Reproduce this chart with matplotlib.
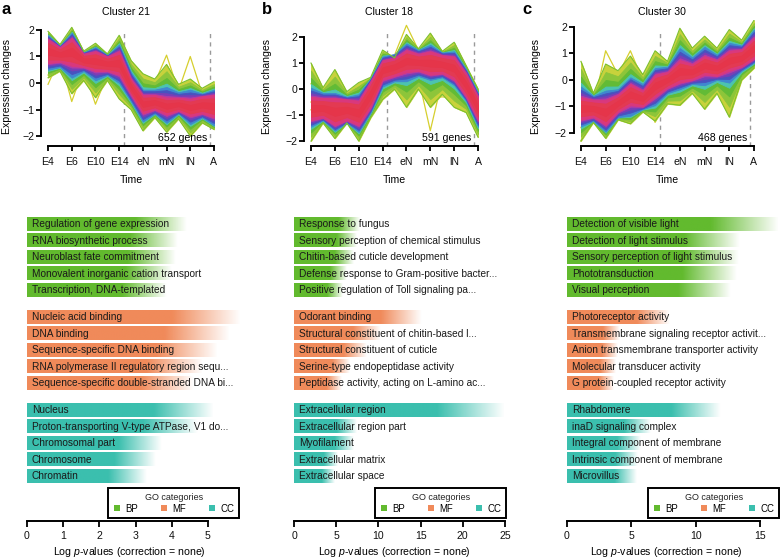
import numpy as np
import matplotlib
matplotlib.use('Agg')
import matplotlib.pyplot as plt
from matplotlib.colors import to_rgb
from matplotlib.lines import Line2D

plt.rcParams['font.family'] = ['Liberation Sans', 'DejaVu Sans']
plt.rcParams['mathtext.fontset'] = 'custom'
plt.rcParams['mathtext.rm'] = 'Liberation Sans'
plt.rcParams['mathtext.it'] = 'Liberation Sans:italic'

# ---------------- data ----------------
time_labels = ["E4", "E6", "E10", "E14", "eN", "mN", "lN", "A"]
n_points = 15

c21_outer_hi = [1.95, 1.45, 2.10, 1.20, 1.50, 1.10, 1.80, 0.85, 0.35, 0.15, 0.70, -0.05, 0.15, -0.20, 0.05]
c21_outer_lo = [0.20, 0.45, -0.40, 0.10, -0.55, 0.10, -0.60, -1.00, -1.80, -1.30, -1.85, -1.35, -2.00, -1.50, -1.75]
c21_blue_hi = [1.80, 1.40, 1.90, 1.15, 1.35, 1.05, 1.45, 0.40, -0.25, -0.25, -0.15, -0.35, -0.25, -0.40, -0.25]
c21_blue_lo = [0.50, 0.60, 0.20, 0.45, 0.10, 0.30, 0.00, -0.70, -1.45, -1.15, -1.50, -1.15, -1.55, -1.30, -1.60]
c21_red_hi = [1.65, 1.35, 1.70, 1.10, 1.20, 1.00, 1.20, 0.15, -0.45, -0.45, -0.55, -0.55, -0.60, -0.50, -0.45]
c21_red_lo = [0.75, 0.80, 0.65, 0.60, 0.45, 0.45, 0.30, -0.45, -1.15, -1.00, -1.20, -1.05, -1.25, -1.15, -1.30]
c21_outliers = [
    [-0.05, 0.95, -0.70, 0.55, -0.80, 0.30, 0.20, 0.80, 0.25, 0.00, 1.05, -0.30, 1.00, -0.40, -0.30],
    [0.30, 1.00, -0.35, 0.40, -0.50, 0.35, -0.30, 0.40, -0.10, -0.30, 0.20, -0.40, 0.00, -0.45, -0.60],
]

c18_outer_hi = [1.00, 0.05, 0.75, -0.10, 0.25, 0.45, 1.50, 1.20, 2.10, 1.55, 2.15, 1.45, 1.80, 0.90, 0.00]
c18_outer_lo = [-2.00, -1.30, -1.90, -1.30, -2.00, -1.10, -0.40, 0.00, -0.70, 0.00, -0.70, -0.20, -0.70, -0.90, -1.85]
c18_blue_hi = [0.05, -0.15, -0.15, -0.30, -0.20, 0.40, 1.25, 1.35, 1.75, 1.50, 1.70, 1.40, 1.45, 0.75, -0.15]
c18_blue_lo = [-1.45, -1.20, -1.60, -1.30, -1.65, -0.90, 0.10, 0.30, 0.30, 0.50, 0.35, 0.45, 0.15, -0.45, -1.45]
c18_red_hi = [-0.30, -0.35, -0.35, -0.40, -0.45, 0.30, 1.10, 1.20, 1.50, 1.35, 1.45, 1.30, 1.25, 0.60, -0.30]
c18_red_lo = [-1.20, -1.10, -1.40, -1.20, -1.40, -0.70, 0.35, 0.50, 0.65, 0.70, 0.55, 0.60, 0.35, -0.30, -1.20]
c18_outliers = [
    [-0.50, -0.60, -0.70, -0.70, -0.80, -0.30, 0.30, 0.40, 0.30, 0.45, -1.60, 0.35, 0.40, -0.20, -1.00],
    [0.20, -0.20, 0.00, -0.40, -0.30, 0.20, 0.60, 1.30, 2.45, 1.50, 1.60, 1.30, 1.50, 0.50, -0.50],
    [-0.80, -0.70, -1.00, -0.80, -1.00, -0.40, 0.00, 0.50, 0.40, 0.45, -0.35, -0.30, -0.35, -0.50, -1.20],
]

c30_outer_hi = [0.70, -0.50, 0.60, 0.35, 0.90, 0.20, 1.10, 0.70, 1.95, 1.20, 1.65, 1.20, 1.90, 1.50, 2.25]
c30_outer_lo = [-2.30, -1.60, -2.20, -1.50, -1.65, -1.20, -1.55, -0.90, -0.95, -0.50, -1.10, -0.50, -1.40, 0.00, 0.45]
c30_blue_hi = [-0.25, -0.60, -0.40, -0.35, 0.10, -0.15, 0.45, 0.50, 1.20, 0.85, 1.25, 0.95, 1.40, 1.30, 1.90]
c30_blue_lo = [-1.75, -1.55, -1.95, -1.40, -1.35, -1.10, -0.95, -0.50, -0.35, -0.15, -0.20, 0.00, -0.10, 0.35, 0.65]
c30_red_hi = [-0.65, -0.75, -0.75, -0.55, -0.15, -0.40, 0.20, 0.30, 0.75, 0.60, 0.90, 0.75, 1.10, 1.15, 1.60]
c30_red_lo = [-1.50, -1.40, -1.70, -1.20, -0.95, -1.00, -0.65, -0.30, -0.10, 0.00, 0.20, 0.15, 0.35, 0.50, 0.80]
c30_outliers = [
    [-2.30, -1.00, 1.10, 0.20, 1.10, 0.00, 0.60, 0.40, -0.95, -0.40, -0.60, -0.40, -1.35, 0.10, 0.50],
    [-1.80, -0.90, 0.50, -0.20, 0.80, -0.20, -1.60, -0.60, -0.50, -0.30, -1.00, -0.40, -0.80, 0.20, 0.60],
]

cluster_names = ["Cluster 21", "Cluster 18", "Cluster 30"]
gene_counts = ["652 genes", "591 genes", "468 genes"]

bp_a = ["Regulation of gene expression", "RNA biosynthetic process", "Neuroblast fate commitment",
        "Monovalent inorganic cation transport", "Transcription, DNA-templated"]
bp_a_vals = [4.4, 4.15, 4.1, 4.0, 3.85]
mf_a = ["Nucleic acid binding", "DNA binding", "Sequence-specific DNA binding",
        "RNA polymerase II regulatory region sequ...", "Sequence-specific double-stranded DNA bi..."]
mf_a_vals = [5.9, 5.6, 5.25, 4.85, 4.6]
cc_a = ["Nucleus", "Proton-transporting V-type ATPase, V1 do...", "Chromosomal part", "Chromosome", "Chromatin"]
cc_a_vals = [5.15, 4.7, 3.72, 3.55, 3.3]

bp_b = ["Response to fungus", "Sensory perception of chemical stimulus", "Chitin-based cuticle development",
        "Defense response to Gram-positive bacter...", "Positive regulation of Toll signaling pa..."]
bp_b_vals = [7.8, 7.4, 7.0, 6.2, 5.8]
mf_b = ["Odorant binding", "Structural constituent of chitin-based l...", "Structural constituent of cuticle",
        "Serine-type endopeptidase activity", "Peptidase activity, acting on L-amino ac..."]
mf_b_vals = [15.1, 10.2, 8.6, 6.6, 5.6]
cc_b = ["Extracellular region", "Extracellular region part", "Myofilament", "Extracellular matrix", "Extracellular space"]
cc_b_vals = [25.0, 7.4, 7.0, 5.2, 4.85]

bp_c = ["Detection of visible light", "Detection of light stimulus", "Sensory perception of light stimulus",
        "Phototransduction", "Visual perception"]
bp_c_vals = [16.4, 13.4, 13.3, 13.2, 12.7]
mf_c = ["Photoreceptor activity", "Transmembrane signaling receptor activit...",
        "Anion transmembrane transporter activity", "Molecular transducer activity",
        "G protein-coupled receptor activity"]
mf_c_vals = [8.0, 4.1, 3.9, 3.8, 3.6]
cc_c = ["Rhabdomere", "inaD signaling complex", "Integral component of membrane",
        "Intrinsic component of membrane", "Microvillus"]
cc_c_vals = [11.9, 6.45, 5.7, 5.45, 5.4]

go_names = ["BP", "MF", "CC"]
go_colors = ["#62BA2E", "#F08A5A", "#3BBFAE"]

# ---------------- figure ----------------
W, H = 780, 560
fig = plt.figure(figsize=(W / 100, H / 100), dpi=100)


def px_axes(x0, x1, ytop, ybot):
    return fig.add_axes([x0 / W, 1 - ybot / H, (x1 - x0) / W, (ybot - ytop) / H])


layer_styles = [(0.0, '#C8D23C'), (0.3, '#8DC53A'), (0.6, '#62BB36'), (0.85, '#4CC3B0'),
                (1.0, '#3F88CF'), (1.3, '#4852BF'), (1.6, '#7A3EB6'), (1.85, '#B43BA4'),
                (2.0, '#D9387C'), (2.3, '#E33A52'), (2.7, '#E5354A')]


def envelope(s, outer, blue, red):
    center = (np.array(red[0]) + np.array(red[1])) / 2
    levels = [outer, blue, red, (center, center)]
    k = min(int(s), 2)
    f = s - k
    a, b = levels[k], levels[k + 1]
    hi = np.array(a[0]) + f * (np.array(b[0]) - np.array(a[0]))
    lo = np.array(a[1]) + f * (np.array(b[1]) - np.array(a[1]))
    return hi, lo


line_panels = [
    dict(x0=41.4, x1=220.6, ylim=(-2.377, 2.377), letter="a", lx=1,
         outer=(c21_outer_hi, c21_outer_lo), blue=(c21_blue_hi, c21_blue_lo),
         red=(c21_red_hi, c21_red_lo), outl=c21_outliers, ylab_x=-0.164),
    dict(x0=304.3, x1=484.7, ylim=(-2.19, 2.655), letter="b", lx=262,
         outer=(c18_outer_hi, c18_outer_lo), blue=(c18_blue_hi, c18_blue_lo),
         red=(c18_red_hi, c18_red_lo), outl=c18_outliers, ylab_x=-0.179),
    dict(x0=574.0, x1=760.9, ylim=(-2.49, 2.26), letter="c", lx=522,
         outer=(c30_outer_hi, c30_outer_lo), blue=(c30_blue_hi, c30_blue_lo),
         red=(c30_red_hi, c30_red_lo), outl=c30_outliers, ylab_x=-0.177),
]

t = np.arange(n_points)
for p, name, genes in zip(line_panels, cluster_names, gene_counts):
    ax = px_axes(p['x0'], p['x1'], 20, 146)
    for o in p['outl']:
        ax.plot(t, o, color='#D6CF2E', lw=0.9, zorder=2)
    for s, col in layer_styles:
        hi, lo = envelope(s, p['outer'], p['blue'], p['red'])
        ax.fill_between(t, lo, hi, color=col, lw=0.6, edgecolor=col, zorder=3)
    for yy in p['outer']:
        ax.plot(t, yy, color='#7CC12E', lw=0.8, zorder=3)
    for xv in (6.4, 13.7):
        ax.axvline(xv, ymin=0, ymax=0.92, color='#9a9a9a', lw=1.0, ls=(0, (3, 3)), zorder=1)
    ax.set_xlim(-0.56, 14.56)
    ax.set_ylim(*p['ylim'])
    ax.set_xticks(np.arange(0, n_points, 2))
    ax.set_xticklabels(time_labels)
    ax.set_yticks([-2, -1, 0, 1, 2])
    for sp in ('top', 'right'):
        ax.spines[sp].set_visible(False)
    ax.spines['left'].set_bounds(-2, 2)
    ax.spines['bottom'].set_bounds(0, 14)
    for sp in ('left', 'bottom'):
        ax.spines[sp].set_linewidth(1.4)
    ax.tick_params(axis='both', direction='out', length=3.6, width=1.4, labelsize=7.6, colors='#111111')
    ax.tick_params(axis='x', pad=4)
    ax.tick_params(axis='y', pad=1.5)
    ax.set_xlabel("Time", fontsize=7.6)
    ax.xaxis.set_label_coords(0.5, -0.228)
    ax.set_ylabel("Expression changes", fontsize=7.6)
    ax.yaxis.set_label_coords(p['ylab_x'], 0.47)
    ax.text(0.47, 1.063, name, transform=ax.transAxes, ha='center', va='center', fontsize=7.6)
    ax.text(0.925, 0.063, genes, transform=ax.transAxes, ha='right', va='center', fontsize=7.6)
    fig.text(p['lx'] / W, 1 - 9 / H, p['letter'], fontsize=12, fontweight='bold', va='center', ha='left')

# ---------------- GO bars ----------------
GROUP_STEP = 5.636
bar_panels = [
    dict(x0=27, ppu=36.2, xmax=6.0, ticks=[0, 1, 2, 3, 4, 5], legR=239,
         groups=[(bp_a, bp_a_vals), (mf_a, mf_a_vals), (cc_a, cc_a_vals)]),
    dict(x0=294, ppu=8.44, xmax=25.3, ticks=[0, 5, 10, 15, 20, 25], legR=506,
         groups=[(bp_b, bp_b_vals), (mf_b, mf_b_vals), (cc_b, cc_b_vals)]),
    dict(x0=567, ppu=12.87, xmax=16.5, ticks=[0, 5, 10, 15], legR=779,
         groups=[(bp_c, bp_c_vals), (mf_c, mf_c_vals), (cc_c, cc_c_vals)]),
]

tt = np.linspace(0, 1, 256)
fade = np.clip((1 - tt) / (1 - 0.68), 0, 1)

for bp in bar_panels:
    ax = px_axes(bp['x0'], bp['x0'] + bp['ppu'] * bp['xmax'], 210, 520.7)
    for g, ((labels, vals), col) in enumerate(zip(bp['groups'], go_colors)):
        grad = np.zeros((1, 256, 4))
        grad[..., :3] = to_rgb(col)
        grad[0, :, 3] = fade
        for i, (lab, v) in enumerate(zip(labels, vals)):
            y = g * GROUP_STEP + i
            ax.imshow(grad, extent=(0, v, y + 0.4, y - 0.4), aspect='auto',
                      interpolation='bilinear', zorder=1)
            ax.annotate(lab, (0, y), xytext=(3.6, 0), textcoords='offset points',
                        va='center', ha='left', fontsize=7.3, color='#1a1a1a',
                        zorder=3, annotation_clip=False)
    ax.set_xlim(0, bp['xmax'])
    ax.set_ylim(17.98, -0.85)
    ax.set_yticks([])
    for sp in ('top', 'right', 'left'):
        ax.spines[sp].set_visible(False)
    ax.spines['bottom'].set_bounds(bp['ticks'][0], bp['ticks'][-1])
    ax.spines['bottom'].set_linewidth(1.4)
    ax.set_xticks(bp['ticks'])
    ax.tick_params(axis='x', direction='out', length=4.3, width=1.4, pad=3, labelsize=7.6, colors='#111111')
    ax.set_xlabel("Log $p$-values (correction = none)", fontsize=7.6)
    ax.xaxis.set_label_coords(0.47, -0.077)
    ax.patch.set_alpha(0)

    handles = [Line2D([], [], marker='s', ls='none', markersize=4.2, color=c, markeredgewidth=0)
               for c in go_colors]
    leg = ax.legend(handles, go_names, title="GO categories", ncol=3, loc='lower right',
                    bbox_to_anchor=(bp['legR'] / W, 1 - 518 / H), bbox_transform=fig.transFigure,
                    borderaxespad=0, fontsize=6.9, title_fontsize=6.5, frameon=True,
                    fancybox=False, handlelength=0.8, handletextpad=0.5, columnspacing=2.3,
                    borderpad=0.45, labelspacing=0.2)
    fr = leg.get_frame()
    fr.set_edgecolor('black')
    fr.set_linewidth(1.4)
    fr.set_alpha(1)
    leg.get_title().set_color('#222222')
    leg.set_zorder(5)

fig.savefig("out.png", dpi=100)
